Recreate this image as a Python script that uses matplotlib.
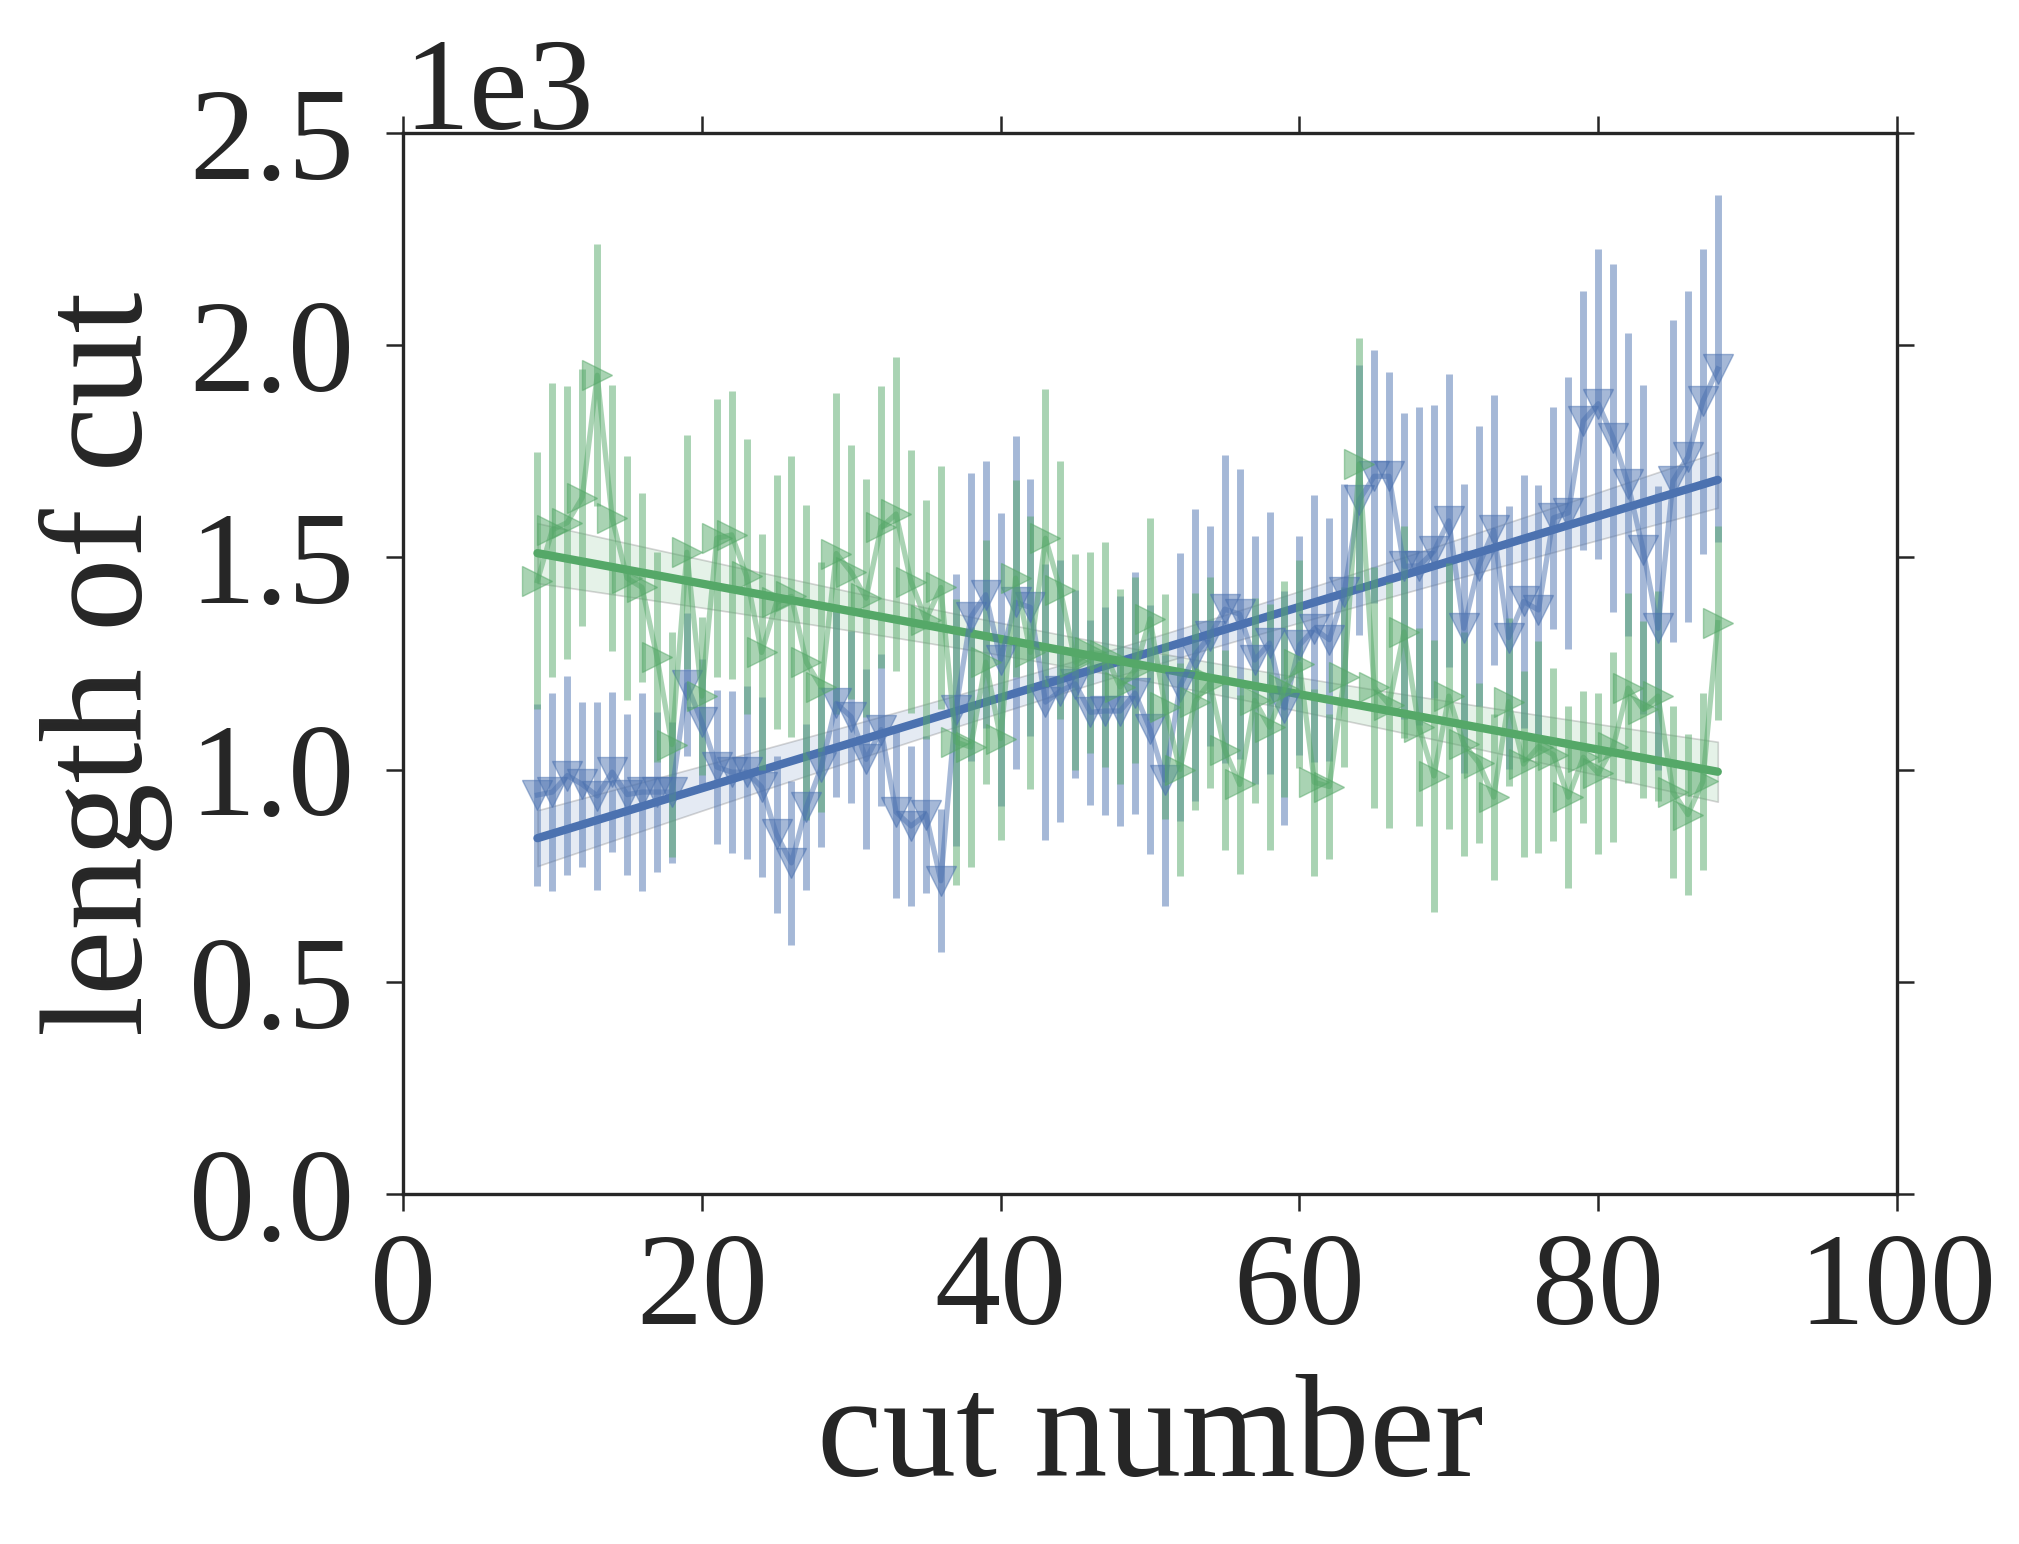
import matplotlib
matplotlib.use("Agg")
import matplotlib.pyplot as plt
import numpy as np
from matplotlib.colors import to_rgba
from matplotlib.ticker import MultipleLocator

# cut numbers
cut_number = np.arange(9, 89)

# series 1 (blue, down triangles)
blue_len = [940, 947, 986, 965, 938, 994, 941, 947, 947, 947,
            1200, 1112, 1006, 994, 994, 959, 847, 780, 912, 1006,
            1156, 1124, 1024, 1094, 900, 867, 894, 738, 1141, 1359,
            1412, 1259, 1394, 1382, 1159, 1185, 1202, 1135, 1138, 1138,
            1180, 1095, 975, 1195, 1270, 1315, 1378, 1366, 1258, 1298,
            1145, 1293, 1332, 1306, 1418, 1635, 1691, 1691, 1479, 1480,
            1514, 1586, 1333, 1480, 1564, 1311, 1396, 1376, 1593, 1605,
            1822, 1862, 1781, 1672, 1518, 1333, 1680, 1737, 1868, 1944]
blue_err = [215, 234, 234, 194, 222, 188, 190, 234, 188, 166,
            169, 149, 182, 191, 204, 212, 185, 194, 195, 188,
            221, 202, 212, 179, 203, 188, 186, 169, 320, 340,
            314, 345, 392, 302, 326, 308, 221, 218, 246, 272,
            285, 293, 296, 316, 344, 260, 362, 341, 292, 308,
            276, 258, 315, 287, 255, 318, 298, 245, 360, 374,
            345, 345, 341, 330, 318, 310, 298, 295, 262, 321,
            305, 365, 410, 357, 387, 335, 380, 390, 359, 409]

# series 2 (green, right triangles)
green_len = [1445, 1565, 1582, 1641, 1929, 1592, 1451, 1429, 1265, 1059,
             1512, 1173, 1545, 1553, 1455, 1276, 1394, 1408, 1253, 1194,
             1509, 1465, 1404, 1571, 1602, 1443, 1353, 1429, 1065, 1053,
             1253, 1073, 1451, 1276, 1545, 1423, 1253, 1276, 1271, 1195,
             1235, 1355, 1148, 1000, 1160, 1205, 1046, 965, 1163, 1100,
             1190, 1248, 970, 960, 1218, 1720, 1194, 1153, 1324, 1100,
             985, 1173, 1060, 1016, 935, 1160, 1013, 1054, 1035, 935,
             1029, 991, 1054, 1192, 1142, 1173, 947, 894, 972, 1346]
green_err = [303, 346, 322, 302, 309, 313, 287, 222, 248, 265,
             276, 186, 328, 340, 324, 278, 299, 331, 371, 294,
             379, 299, 281, 332, 370, 309, 281, 287, 337, 282,
             288, 240, 232, 322, 351, 305, 255, 237, 265, 230,
             219, 238, 265, 251, 256, 248, 236, 210, 241, 289,
             255, 245, 220, 170, 212, 298, 284, 290, 250, 233,
             320, 313, 263, 188, 196, 198, 220, 250, 204, 215,
             155, 190, 224, 224, 208, 247, 202, 190, 208, 229]

blue = "#4C72B0"
green = "#55A868"

plt.rcParams['font.family'] = ['Liberation Serif', 'DejaVu Serif']
plt.rcParams['text.color'] = '#262626'
plt.rcParams['axes.labelcolor'] = '#262626'
plt.rcParams['xtick.color'] = '#262626'
plt.rcParams['ytick.color'] = '#262626'


def reg_band(x, y, n_pts=100):
    x = np.asarray(x, float)
    y = np.asarray(y, float)
    slope, icpt = np.polyfit(x, y, 1)
    grid = np.linspace(x.min(), x.max(), n_pts)
    fit = icpt + slope * grid
    resid = y - (icpt + slope * x)
    n = len(x)
    s = np.sqrt(np.sum(resid ** 2) / (n - 2))
    se = s * np.sqrt(1.0 / n + (grid - x.mean()) ** 2 / np.sum((x - x.mean()) ** 2))
    return grid, fit, fit - 1.99 * se, fit + 1.99 * se


fig = plt.figure(figsize=(20.19, 15.44), dpi=100)
ax = fig.add_axes([0.1996, 0.2267, 0.7400, 0.6872])

for y, err, col, mk in [(blue_len, blue_err, blue, 'v'), (green_len, green_err, green, '>')]:
    ax.errorbar(cut_number, y, yerr=err, fmt='-' + mk, color=col, alpha=0.5,
                lw=3.8, elinewidth=5, capsize=0, ms=21, mec=col)
    grid, fit, lo, hi = reg_band(cut_number, y)
    ax.fill_between(grid, lo, hi, facecolor=to_rgba(col, 0.15),
                    edgecolor=(0.2, 0.2, 0.2, 0.2), linewidth=1.2)
    ax.plot(grid, fit, color=col, lw=6, solid_capstyle='round')

ax.set_xlim(0, 100)
ax.set_ylim(0, 2500)
ax.xaxis.set_major_locator(MultipleLocator(20))
ax.yaxis.set_major_locator(MultipleLocator(500))
ax.ticklabel_format(axis='y', style='sci', scilimits=(0, 0))
ax.yaxis.get_offset_text().set_fontsize(95)
ax.tick_params(direction='out', top=True, right=True, length=12, width=1.8,
               labelsize=95, pad=16)
ax.tick_params(axis='y', pad=23)
for sp in ax.spines.values():
    sp.set_linewidth(2.4)
    sp.set_color('#262626')
ax.set_xlabel("cut number", fontsize=106, labelpad=16)
ax.set_ylabel("length of cut", fontsize=106, labelpad=12)

plt.savefig("out.png", dpi=100)
